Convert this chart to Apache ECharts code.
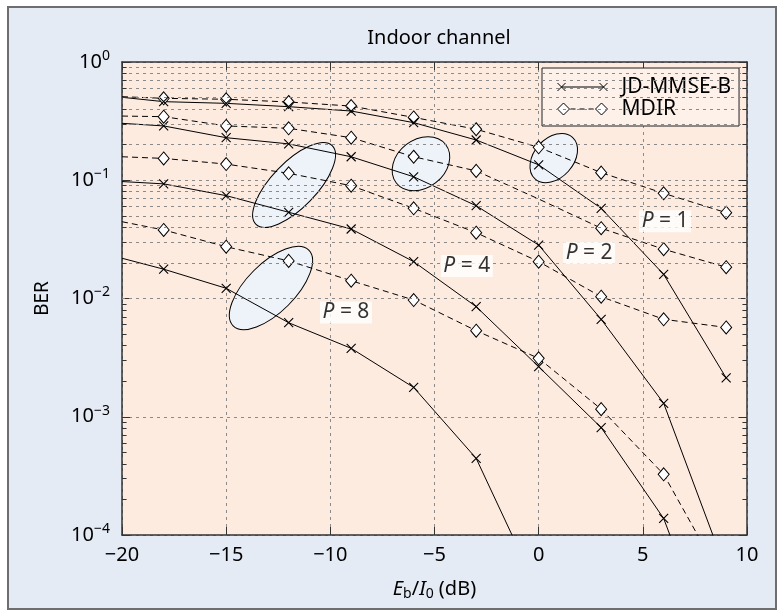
<!DOCTYPE html>
<html>
<head>
<meta charset="utf-8">
<script src="https://cdn.jsdelivr.net/npm/echarts@6/dist/echarts.min.js"></script>
<style>
  html, body { margin: 0; padding: 0; background: #fff; }
  #main { width: 784px; height: 616px; }
</style>
</head>
<body>
<div id="main"></div>
<script>
// Eb/I0 (dB) points of every curve; the first one (-20) carries no marker
const snr = [-20, -18, -15, -12, -9, -6, -3, 0, 3, 6, 9];

// JD-MMSE-B, solid line with x markers
const jdP1 = [0.503, 0.462, 0.447, 0.419, 0.385, 0.307, 0.219, 0.135, 0.0579, 0.0160, 0.00213];
const jdP2 = [0.303, 0.288, 0.229, 0.203, 0.158, 0.107, 0.0609, 0.0283, 0.00667, 0.0013, 0.00005];
const jdP4 = [0.0975, 0.0932, 0.0741, 0.0536, 0.0387, 0.0205, 0.00853, 0.00265, 0.00081, 0.000138, 0.0000055];
const jdP8 = [0.0219, 0.0177, 0.0122, 0.00624, 0.00379, 0.00177, 0.000445, 0.000033, null, null, null];

// MDIR, dashed line with diamonds
const mdirP1 = [0.509, 0.493, 0.484, 0.459, 0.424, 0.340, 0.270, 0.190, 0.116, 0.0775, 0.0532];
const mdirP2 = [0.349, 0.345, 0.288, 0.275, 0.229, 0.158, 0.120, 0.0694, 0.0393, 0.0261, 0.0184];
const mdirP4 = [0.158, 0.153, 0.137, 0.1145, 0.0899, 0.0579, 0.0360, 0.0205, 0.01035, 0.00667, 0.00569];
const mdirP8 = [0.0446, 0.0380, 0.0274, 0.0208, 0.01414, 0.00971, 0.00534, 0.00312, 0.00116, 0.000326, 0.000037];

// "P = n" labels (data coords)
const pNames = ['1', '2', '4', '8'];
const pLabelX = [6.07, 2.42, -3.45, -9.25];
const pLabelY = [0.045, 0.0243, 0.0188, 0.00762];

// x ticks
const xTicks = [-20, -15, -10, -5, 0, 5, 10];

// minor log grid values (2..9 per decade)
const minorVals = [];
[-4, -3, -2, -1].forEach(function (d) {
  for (let m = 2; m <= 9; m++) minorVals.push(+(m * Math.pow(10, d)).toPrecision(3));
});

const FONT = 'Noto Sans';
const crossPath = 'path://M0,0L10,10M10,0L0,10';
const jdIcon = 'path://M25,0L25,0M25,12L25,12M0,2L8,10M8,2L0,10M4,6L46,6M42,2L50,10M50,2L42,10';
const mdIcon = 'path://M6,0L12,6L6,12L0,6ZM44,0L50,6L44,12L38,6ZM13,6L18,6M22,6L27,6M31,6L36,6';

function minus(v) {
  return v < 0 ? '\u2212' + (-v) : String(v);
}

function curve(name, values, dashed, noMark) {
  const data = [];
  snr.forEach(function (x, i) {
    if (values[i] == null) return;
    if (i === 0 || noMark.indexOf(i) >= 0) data.push({ value: [x, values[i]], symbol: 'none' });
    else data.push([x, values[i]]);
  });
  return {
    name: name,
    type: 'line',
    z: 3,
    data: data,
    symbol: dashed ? 'diamond' : crossPath,
    symbolSize: dashed ? [11, 13] : 9,
    showAllSymbol: true,
    clip: true,
    lineStyle: { color: '#000', width: 1, type: dashed ? [6, 4] : 'solid' },
    itemStyle: dashed
      ? { color: '#fff', borderColor: '#000', borderWidth: 1 }
      : { color: '#000', borderColor: '#000', borderWidth: 1.1 },
    emphasis: { disabled: true },
    silent: true
  };
}

const tickLines = [];
minorVals.forEach(function (v) {
  tickLines.push([{ coord: [-20, v] }, { coord: [-19.78, v] }]);
  tickLines.push([{ coord: [10, v] }, { coord: [9.78, v] }]);
});

const frameAxis = { onZero: false, lineStyle: { color: '#333', width: 1.5 } };
const gridDots = { show: true, lineStyle: { color: '#8a8a8a', type: [3, 4], width: 1 } };

const chart = echarts.init(document.getElementById('main'));

const option = {
  animation: false,
  backgroundColor: '#fff',
  textStyle: { fontFamily: FONT },
  title: {
    text: 'Indoor channel',
    left: 434,
    top: 23,
    textAlign: 'center',
    textStyle: { fontFamily: FONT, fontSize: 20, fontWeight: 'normal', color: '#000' }
  },
  legend: {
    left: 542,
    top: 68,
    orient: 'vertical',
    selectedMode: false,
    backgroundColor: '#fdf1ea',
    borderColor: '#222',
    borderWidth: 1,
    padding: [8, 8, 6, 15],
    itemGap: 0,
    itemWidth: 50,
    itemHeight: 12,
    textStyle: { fontFamily: FONT, fontSize: 21, color: '#000', lineHeight: 22, padding: [0, 0, 0, 9] },
    data: [
      { name: 'JD-MMSE-B', icon: jdIcon, itemStyle: { color: '#000', borderColor: '#000', borderWidth: 1 } },
      { name: 'MDIR', icon: mdIcon, itemStyle: { color: '#fff', borderColor: '#000', borderWidth: 1 } }
    ]
  },
  grid: {
    left: 122, right: 37, top: 62, bottom: 81,
    show: true, backgroundColor: '#fdebe0', borderWidth: 0
  },
  xAxis: [{
    type: 'value', min: xTicks[0], max: xTicks[xTicks.length - 1], interval: 5,
    position: 'bottom',
    axisLine: frameAxis,
    axisTick: { inside: true, length: 8, lineStyle: { color: '#333' } },
    splitLine: gridDots,
    axisLabel: { color: '#000', fontSize: 20, fontFamily: FONT, margin: 10, formatter: minus },
    name: '{i|E}{sub|b}/{i|I}{sub|0} (dB)',
    nameLocation: 'middle',
    nameGap: 42,
    nameTextStyle: {
      color: '#000', fontSize: 20, fontFamily: FONT,
      rich: {
        i: { fontStyle: 'italic', fontSize: 20, fontFamily: FONT, color: '#000' },
        sub: { fontSize: 14, fontFamily: FONT, color: '#000', padding: [10, 0, 0, 0] }
      }
    }
  }, {
    type: 'value', min: xTicks[0], max: xTicks[xTicks.length - 1], interval: 5,
    position: 'top',
    axisLine: frameAxis,
    axisTick: { inside: true, length: 8, lineStyle: { color: '#333' } },
    splitLine: { show: false },
    axisLabel: { show: false }
  }],
  yAxis: [{
    type: 'log', logBase: 10, min: 0.0001, max: 1,
    position: 'left',
    axisLine: frameAxis,
    axisTick: { show: true, inside: true, length: 8, lineStyle: { color: '#333' } },
    splitLine: gridDots,
    axisLabel: {
      color: '#000', fontSize: 20, fontFamily: FONT, margin: 12,
      formatter: function (v) {
        const e = Math.round(Math.log10(v));
        return '{b|10}{e|' + minus(e) + '}';
      },
      rich: {
        b: { fontSize: 20, fontFamily: FONT, color: '#000' },
        e: { fontSize: 14, fontFamily: FONT, color: '#000', padding: [0, 0, 12, 0] }
      }
    },
    name: 'BER',
    nameLocation: 'middle',
    nameGap: 70,
    nameTextStyle: { color: '#000', fontSize: 19, fontFamily: FONT }
  }, {
    type: 'log', logBase: 10, min: 0.0001, max: 1,
    position: 'right',
    axisLine: frameAxis,
    axisTick: { show: true, inside: true, length: 8, lineStyle: { color: '#333' } },
    splitLine: { show: false },
    axisLabel: { show: false }
  }],
  series: [
    {
      type: 'line', name: 'minorGrid', data: [], z: 1, silent: true,
      markLine: {
        silent: true, symbol: ['none', 'none'], label: { show: false }, animation: false,
        lineStyle: { color: '#8a8a8a', type: [3, 4], width: 1 },
        data: minorVals.map(function (v) { return { yAxis: v }; })
      }
    },
    {
      type: 'line', name: 'minorTicks', data: [], z: 1, silent: true,
      markLine: {
        silent: true, symbol: ['none', 'none'], label: { show: false }, animation: false,
        lineStyle: { color: '#333', type: 'solid', width: 1 },
        data: tickLines
      }
    },
    curve('MDIR', mdirP1, true, []),
    curve('MDIR', mdirP2, true, [7]),
    curve('MDIR', mdirP4, true, []),
    curve('MDIR', mdirP8, true, []),
    curve('JD-MMSE-B', jdP1, false, []),
    curve('JD-MMSE-B', jdP2, false, []),
    curve('JD-MMSE-B', jdP4, false, []),
    curve('JD-MMSE-B', jdP8, false, []),
    {
      type: 'scatter', name: 'labels', z: 6, silent: true,
      symbol: 'rect',
      symbolSize: [52, 22],
      itemStyle: { color: '#fff' },
      data: pNames.map(function (n, i) { return { value: [pLabelX[i], pLabelY[i]], name: n }; }),
      label: {
        show: true, position: 'inside',
        formatter: function (p) { return '{i|P} = ' + p.name; },
        color: '#000', fontSize: 21, fontFamily: FONT,
        rich: { i: { fontStyle: 'italic', fontSize: 21, fontFamily: FONT, color: '#000' } }
      }
    }
  ]
};

chart.setOption(option);

// grouping ellipses: centre in data coords, semi-axes in px, tilt in degrees
const ellipseCentres = [[-12.85, 0.01227], [-11.74, 0.0912], [-5.65, 0.138], [0.725, 0.154]];
const ellipseShape = [[53.5, 24.4, 45], [54.8, 22.6, 46], [31.3, 24.1, 38], [28, 19.7, 48]];

const graphics = [{
  type: 'rect', z: -10, silent: true,
  shape: { x: 8, y: 7, width: 768, height: 602 },
  style: { fill: '#e4ebf5', stroke: '#6e6e6e', lineWidth: 2 }
}];
ellipseCentres.forEach(function (c, i) {
  const p = chart.convertToPixel({ gridIndex: 0 }, c);
  const s = ellipseShape[i];
  graphics.push({
    type: 'ellipse', z: 2, silent: true,
    x: p[0], y: p[1],
    rotation: s[2] * Math.PI / 180,
    shape: { cx: 0, cy: 0, rx: s[0], ry: s[1] },
    style: { fill: '#eef2f9', stroke: '#000', lineWidth: 1 }
  });
});
chart.setOption({ graphic: graphics });
</script>
</body>
</html>
